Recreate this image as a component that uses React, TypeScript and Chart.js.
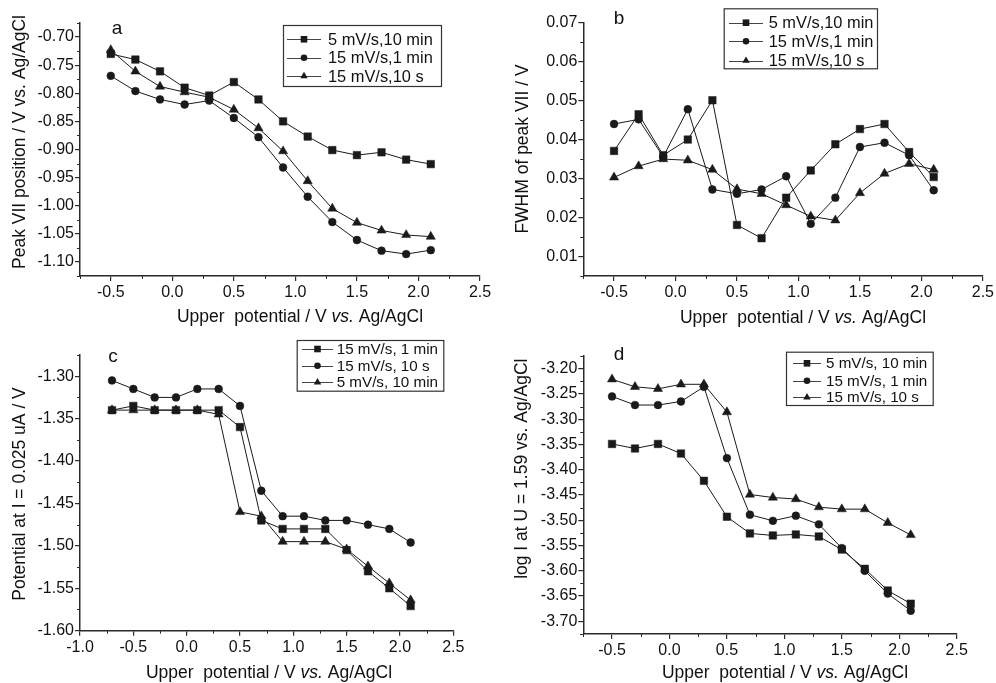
import React, { useEffect, useRef } from "react";
import { Chart, registerables } from "chart.js";
Chart.register(...registerables);

const FONT = "'Liberation Sans', Arial, Helvetica, sans-serif";
const INK = "#1a1a1a";
const AXIS = "#2a2a2a";

// ---------- data ----------
const xAB = [-0.5, -0.3, -0.1, 0.1, 0.3, 0.5, 0.7, 0.9, 1.1, 1.3, 1.5, 1.7, 1.9, 2.1];
const xCD_c = [-0.7, -0.5, -0.3, -0.1, 0.1, 0.3, 0.5, 0.7, 0.9, 1.1, 1.3, 1.5, 1.7, 1.9, 2.1];

const aSquare = [-0.730, -0.740, -0.761, -0.790, -0.804, -0.780, -0.811, -0.850, -0.877, -0.901, -0.910, -0.905, -0.918, -0.926];
const aCircle = [-0.769, -0.796, -0.811, -0.820, -0.813, -0.844, -0.878, -0.932, -0.984, -1.029, -1.061, -1.080, -1.086, -1.079];
const aTriangle = [-0.723, -0.761, -0.788, -0.798, -0.807, -0.829, -0.862, -0.903, -0.956, -1.005, -1.030, -1.044, -1.052, -1.055];

const bSquare = [0.0371, 0.0465, 0.0360, 0.0400, 0.0501, 0.0181, 0.0147, 0.0251, 0.0321, 0.0388, 0.0427, 0.0440, 0.0368, 0.0304];
const bCircle = [0.0440, 0.0452, 0.0356, 0.0478, 0.0272, 0.0261, 0.0272, 0.0306, 0.0184, 0.0251, 0.0381, 0.0392, 0.0360, 0.0270];
const bTriangle = [0.0303, 0.0332, 0.0350, 0.0347, 0.0323, 0.0273, 0.0261, 0.0232, 0.0203, 0.0193, 0.0263, 0.0313, 0.0338, 0.0323];

const cSquare = [-1.340, -1.335, -1.340, -1.340, -1.340, -1.340, -1.360, -1.470, -1.480, -1.480, -1.480, -1.505, -1.530, -1.550, -1.571];
const cCircle = [-1.305, -1.315, -1.325, -1.325, -1.315, -1.315, -1.335, -1.435, -1.465, -1.465, -1.470, -1.470, -1.475, -1.480, -1.496];
const cTriangle = [-1.340, -1.340, -1.340, -1.340, -1.340, -1.345, -1.460, -1.465, -1.495, -1.495, -1.495, -1.504, -1.524, -1.544, -1.564];

const dSquare = [-3.349, -3.358, -3.349, -3.368, -3.422, -3.493, -3.526, -3.530, -3.528, -3.532, -3.558, -3.596, -3.639, -3.665];
const dCircle = [-3.255, -3.272, -3.272, -3.265, -3.236, -3.377, -3.489, -3.501, -3.491, -3.508, -3.555, -3.600, -3.645, -3.679];
const dTriangle = [-3.221, -3.236, -3.240, -3.231, -3.231, -3.286, -3.449, -3.455, -3.458, -3.474, -3.478, -3.478, -3.505, -3.529];

const labelsAB = ["5 mV/s,10 min", "15 mV/s,1 min", "15 mV/s,10 s"];
const labelsC = ["15 mV/s, 1 min", "15 mV/s, 10 s", "5 mV/s, 10 min"];
const labelsD = ["5 mV/s, 10 min", "15 mV/s, 1 min", "15 mV/s, 10 s"];

const xTicksAB = [-0.5, 0, 0.5, 1.0, 1.5, 2.0, 2.5];
const xTicksC = [-1.0, -0.5, 0, 0.5, 1.0, 1.5, 2.0, 2.5];
const aYTicks = [-1.10, -1.05, -1.00, -0.95, -0.90, -0.85, -0.80, -0.75, -0.70];
const bYTicks = [0.01, 0.02, 0.03, 0.04, 0.05, 0.06, 0.07];
const cYTicks = [-1.60, -1.55, -1.50, -1.45, -1.40, -1.35, -1.30];
const dYTicks = [-3.70, -3.65, -3.60, -3.55, -3.50, -3.45, -3.40, -3.35, -3.30, -3.25, -3.20];

const xTitle = [
  { t: "Upper  potential / V ", i: false },
  { t: "vs.", i: true },
  { t: " Ag/AgCl", i: false },
];
const yTitleA = "Peak VII position / V vs. Ag/AgCl";
const yTitleB = "FWHM of peak VII / V";
const yTitleC = "Potential at I = 0.025 uA / V";
const yTitleD = "log I at U = 1.59 vs. Ag/AgCl";

const STYLES = ["rect", "circle", "triangle"];

// ---------- helpers ----------
function minorTicks(majors: number[], min: number, max: number) {
  const step = majors[1] - majors[0];
  const out: number[] = [];
  for (let v = majors[0] - step / 2; v >= min - 1e-9; v -= step) out.push(v);
  for (let i = 0; i < majors.length - 1; i++) out.push((majors[i] + majors[i + 1]) / 2);
  for (let v = majors[majors.length - 1] + step / 2; v <= max + 1e-9; v += step) out.push(v);
  if (out.indexOf(min) < 0 && majors.indexOf(min) < 0) out.push(min);
  if (out.indexOf(max) < 0 && majors.indexOf(max) < 0) out.push(max);
  return out;
}

function fontStr(italic: boolean, size: number) {
  return `${italic ? "italic " : ""}${size}px ${FONT}`;
}

function drawRich(ctx: CanvasRenderingContext2D, parts: { t: string; i: boolean }[], cx: number, cy: number, size: number) {
  const widths = parts.map((p) => {
    ctx.font = fontStr(p.i, size);
    return ctx.measureText(p.t).width;
  });
  const total = widths.reduce((a, b) => a + b, 0);
  let x = cx - total / 2;
  ctx.textBaseline = "middle";
  ctx.textAlign = "left";
  parts.forEach((p, k) => {
    ctx.font = fontStr(p.i, size);
    ctx.fillText(p.t, x, cy);
    x += widths[k];
  });
}

function drawMarker(ctx: CanvasRenderingContext2D, style: string, x: number, y: number, s: number) {
  ctx.beginPath();
  if (style === "rect") {
    ctx.rect(x - s, y - s, 2 * s, 2 * s);
  } else if (style === "circle") {
    ctx.arc(x, y, s, 0, Math.PI * 2);
  } else {
    const r = s * 1.3;
    ctx.moveTo(x, y - r);
    ctx.lineTo(x + r * 0.866, y + r * 0.5);
    ctx.lineTo(x - r * 0.866, y + r * 0.5);
    ctx.closePath();
  }
  ctx.fill();
}

type PanelCfg = {
  w: number; h: number; left: number; top: number;
  x: number[]; series: number[][]; labels: string[];
  xMin: number; xMax: number; yMin: number; yMax: number;
  xTicks: number[]; yTicks: number[]; yDec: number;
  yW: number; xH: number; padT: number; padR: number;
  letter: string; letterPos: [number, number];
  xTitlePos: [number, number]; yTitle: string; yTitlePos: [number, number];
  legend: { box: [number, number, number, number]; rows: number[]; line: [number, number]; textX: number; size: number };
};

function makeDecor(p: PanelCfg) {
  const xMinor = minorTicks(p.xTicks, p.xMin, p.xMax);
  const yMinor = minorTicks(p.yTicks, p.yMin, p.yMax);
  return {
    id: "decor" + p.letter,
    afterDraw(chart: any) {
      const ctx: CanvasRenderingContext2D = chart.ctx;
      const xs = chart.scales.x;
      const ys = chart.scales.y;
      const ca = chart.chartArea;
      ctx.save();
      // minor ticks
      ctx.strokeStyle = AXIS;
      ctx.lineWidth = 1;
      ctx.beginPath();
      xMinor.forEach((v) => {
        const px = Math.round(xs.getPixelForValue(v)) + 0.5;
        ctx.moveTo(px, ca.bottom);
        ctx.lineTo(px, ca.bottom + 3);
      });
      yMinor.forEach((v) => {
        const py = Math.round(ys.getPixelForValue(v)) + 0.5;
        ctx.moveTo(ca.left, py);
        ctx.lineTo(ca.left - 3, py);
      });
      ctx.stroke();

      ctx.fillStyle = "#111";
      // panel letter
      ctx.font = `19px ${FONT}`;
      ctx.textAlign = "center";
      ctx.textBaseline = "middle";
      ctx.fillText(p.letter, p.letterPos[0], p.letterPos[1]);

      // x title
      drawRich(ctx, xTitle, p.xTitlePos[0], p.xTitlePos[1], 17.5);
      // y title
      ctx.save();
      ctx.translate(p.yTitlePos[0], p.yTitlePos[1]);
      ctx.rotate(-Math.PI / 2);
      drawRich(ctx, [{ t: p.yTitle, i: false }], 0, 0, 17.5);
      ctx.restore();

      // legend
      const L = p.legend;
      ctx.strokeStyle = "#333";
      ctx.lineWidth = 1.2;
      ctx.strokeRect(L.box[0] + 0.5, L.box[1] + 0.5, L.box[2] - L.box[0], L.box[3] - L.box[1]);
      p.labels.forEach((lab, i) => {
        const y = L.rows[i];
        ctx.strokeStyle = "#444";
        ctx.lineWidth = 1;
        ctx.beginPath();
        ctx.moveTo(L.line[0], Math.round(y) + 0.5);
        ctx.lineTo(L.line[1], Math.round(y) + 0.5);
        ctx.stroke();
        ctx.fillStyle = INK;
        drawMarker(ctx, STYLES[i], (L.line[0] + L.line[1]) / 2, y, 3.3);
        ctx.fillStyle = "#111";
        ctx.font = `${L.size}px ${FONT}`;
        ctx.textAlign = "left";
        ctx.textBaseline = "middle";
        ctx.fillText(lab, L.textX, y + 1);
      });
      ctx.restore();
    },
  };
}

function buildConfig(p: PanelCfg): any {
  const radius: Record<string, number> = { rect: 5.3, circle: 3.9, triangle: 5.3 };
  const datasets = p.series.map((vals, i) => ({
    label: p.labels[i],
    data: p.x.map((xv, j) => ({ x: xv, y: vals[j] })),
    borderColor: INK,
    backgroundColor: INK,
    borderWidth: 1,
    pointStyle: STYLES[i],
    pointRadius: radius[STYLES[i]],
    pointBorderWidth: 0.5,
    pointBorderColor: INK,
    pointBackgroundColor: INK,
    tension: 0,
    fill: false,
  }));
  const grid = { display: true, drawOnChartArea: false, drawTicks: true, tickLength: 5, color: AXIS, lineWidth: 1.2 };
  const border = { display: true, color: AXIS, width: 1.5 };
  return {
    type: "line",
    data: { datasets },
    options: {
      animation: false,
      responsive: false,
      maintainAspectRatio: false,
      devicePixelRatio: 1,
      layout: { padding: { top: p.padT, right: p.padR, left: 0, bottom: 0 } },
      plugins: { legend: { display: false }, tooltip: { enabled: false } },
      scales: {
        x: {
          type: "linear",
          min: p.xMin,
          max: p.xMax,
          afterBuildTicks: (s: any) => { s.ticks = p.xTicks.map((v) => ({ value: v })); },
          afterFit: (s: any) => { s.height = p.xH; },
          ticks: {
            callback: (v: any) => Number(v).toFixed(1),
            font: { family: FONT, size: 16 },
            color: "#111",
            padding: 2,
            maxRotation: 0,
            autoSkip: false,
          },
          grid,
          border,
        },
        y: {
          type: "linear",
          min: p.yMin,
          max: p.yMax,
          afterBuildTicks: (s: any) => { s.ticks = p.yTicks.map((v) => ({ value: v })); },
          afterFit: (s: any) => { s.width = p.yW; },
          ticks: {
            callback: (v: any) => Number(v).toFixed(p.yDec),
            font: { family: FONT, size: 16 },
            color: "#111",
            padding: 1,
            autoSkip: false,
          },
          grid,
          border,
        },
      },
    },
    plugins: [makeDecor(p)],
  };
}

const panels: PanelCfg[] = [
  {
    w: 498, h: 338, left: 0, top: 0,
    x: xAB, series: [aSquare, aCircle, aTriangle], labels: labelsAB,
    xMin: -0.75, xMax: 2.5, yMin: -1.125, yMax: -0.675,
    xTicks: xTicksAB, yTicks: aYTicks, yDec: 2,
    yW: 80, xH: 62, padT: 23, padR: 18,
    letter: "a", letterPos: [117, 29],
    xTitlePos: [300, 317], yTitle: yTitleA, yTitlePos: [20, 142],
    legend: { box: [283, 25, 441, 86], rows: [39.3, 57.7, 76], line: [287, 321], textX: 328, size: 16.4 },
  },
  {
    w: 498, h: 338, left: 498, top: 0,
    x: xAB, series: [bSquare, bCircle, bTriangle], labels: labelsAB,
    xMin: -0.75, xMax: 2.5, yMin: 0.005, yMax: 0.07,
    xTicks: xTicksAB, yTicks: bYTicks, yDec: 2,
    yW: 85.3, xH: 62, padT: 22.7, padR: 12.7,
    letter: "b", letterPos: [121, 19],
    xTitlePos: [305, 318], yTitle: yTitleB, yTitlePos: [24.7, 149],
    legend: { box: [225.7, 8.3, 379, 68.3], rows: [22.7, 41.3, 60.7], line: [231, 265], textX: 270.7, size: 16.4 },
  },
  {
    w: 498, h: 345, left: 0, top: 338,
    x: xCD_c, series: [cSquare, cCircle, cTriangle], labels: labelsC,
    xMin: -1.0, xMax: 2.5, yMin: -1.60, yMax: -1.275,
    xTicks: xTicksC, yTicks: cYTicks, yDec: 2,
    yW: 80, xH: 52.3, padT: 17, padR: 44.7,
    letter: "c", letterPos: [113, 19],
    xTitlePos: [269, 335], yTitle: yTitleC, yTitlePos: [20, 156],
    legend: { box: [296.7, 2, 443.3, 52.7], rows: [11, 27.7, 44.3], line: [302, 333], textX: 336.7, size: 15.2 },
  },
  {
    w: 498, h: 345, left: 498, top: 338,
    x: xAB, series: [dSquare, dCircle, dTriangle], labels: labelsD,
    xMin: -0.75, xMax: 2.5, yMin: -3.725, yMax: -3.175,
    xTicks: xTicksAB, yTicks: dYTicks, yDec: 2,
    yW: 85.3, xH: 49, padT: 18, padR: 39.3,
    letter: "d", letterPos: [121, 17],
    xTitlePos: [287, 335], yTitle: yTitleD, yTitlePos: [24, 130.7],
    legend: { box: [288, 13.7, 434.7, 67], rows: [25.3, 42.7, 59.3], line: [295, 323], textX: 328, size: 15.2 },
  },
];

function Panel({ p }: { p: PanelCfg }) {
  const ref = useRef<HTMLCanvasElement>(null);
  useEffect(() => {
    const chart = new Chart(ref.current as HTMLCanvasElement, buildConfig(p));
    return () => chart.destroy();
  }, []);
  return (
    <div style={{ position: "absolute", left: p.left, top: p.top, width: p.w, height: p.h }}>
      <canvas ref={ref} width={p.w} height={p.h} style={{ width: p.w, height: p.h, display: "block" }} />
    </div>
  );
}

export default function App() {
  return (
    <div style={{ position: "fixed", left: 0, top: 0, width: 996, height: 683, background: "#fff", overflow: "hidden" }}>
      {panels.map((p) => (
        <Panel key={p.letter} p={p} />
      ))}
    </div>
  );
}
